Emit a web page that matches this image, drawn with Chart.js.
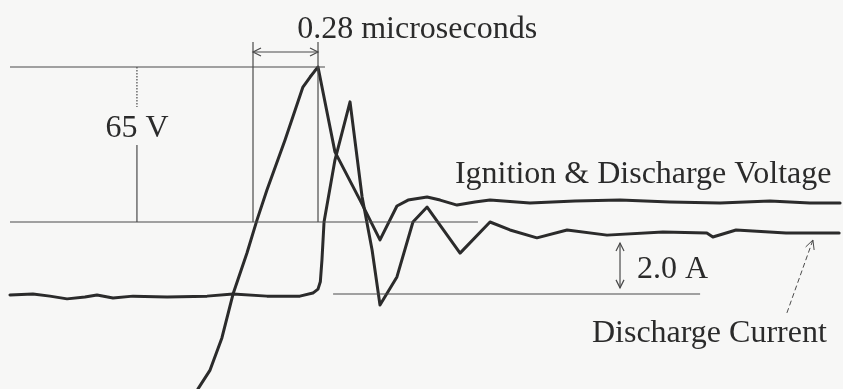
<!DOCTYPE html>
<html>
<head>
<meta charset="utf-8">
<script src="https://cdn.jsdelivr.net/npm/chart.js@4.4.1/dist/chart.umd.min.js"></script>
<style>
  html, body { margin: 0; padding: 0; background: #f7f7f6; }
  #wrap { width: 843px; height: 389px; }
</style>
</head>
<body>
<div id="wrap"><canvas id="scope" width="843" height="389"></canvas></div>
<script>
// time in microseconds (0 = start of voltage rise marker)
const voltageTime = [-0.250, -0.237, -0.185, -0.134, -0.086, -0.026, 0.017, 0.060, 0.138, 0.215, 0.246, 0.265, 0.280,
  0.353, 0.461, 0.547, 0.620, 0.668, 0.750, 0.806, 0.879, 0.956, 1.021, 1.193, 1.387, 1.581, 1.796, 2.012, 2.227, 2.399, 2.529];
// volts, 0 = discharge reference line
const voltageVolts = [-72.5, -70.0, -62.1, -48.6, -30.2, -13.0, 0.8, 13.4, 34.4, 56.6, 60.8, 63.2, 65.0,
  29.4, 9.2, -7.5, 6.7, 9.2, 10.5, 9.2, 7.1, 8.4, 9.2, 8.0, 8.8, 9.2, 8.4, 8.0, 8.8, 8.0, 8.0];

const currentTime = [-1.047, -0.948, -0.875, -0.801, -0.724, -0.672, -0.603, -0.517, -0.370, -0.198, -0.086, 0.060,
  0.202, 0.258, 0.280, 0.290, 0.297, 0.306, 0.353, 0.418, 0.470, 0.513, 0.547, 0.620, 0.689, 0.750, 0.892, 1.021,
  1.107, 1.223, 1.353, 1.525, 1.766, 1.955, 1.981, 2.081, 2.296, 2.525];
// amperes
const currentAmps = [-0.03, 0.00, -0.07, -0.16, -0.10, -0.03, -0.13, -0.07, -0.10, -0.07, 0.00, -0.07,
  -0.07, 0.03, 0.16, 0.40, 1.11, 2.36, 4.39, 6.30, 3.18, 1.44, -0.36, 0.56, 2.36, 2.85, 1.34, 2.36,
  2.10, 1.84, 2.10, 1.93, 2.03, 2.00, 1.87, 2.10, 2.00, 2.00];

// measurement guide lines
const peakVolts = 65;
const riseWidthUs = 0.28;
const currentStepAmps = 2.0;

const serif = "'Liberation Serif', 'Times New Roman', serif";
const ink = '#2b2b2b';
const guide = '#4a4a4a';

function pts(xs, ys) {
  return xs.map((x, i) => ({ x: x, y: ys[i] }));
}

function guideSet(data, axis) {
  return {
    data: data, yAxisID: axis || 'y', borderColor: guide, borderWidth: 1.2,
    pointRadius: 0, tension: 0, fill: false
  };
}

function arrowHead(ctx, x, y, dx, dy, size) {
  const len = Math.hypot(dx, dy);
  const ux = dx / len, uy = dy / len;
  ctx.beginPath();
  ctx.moveTo(x - ux * size - uy * size * 0.5, y - uy * size + ux * size * 0.5);
  ctx.lineTo(x, y);
  ctx.lineTo(x - ux * size + uy * size * 0.5, y - uy * size - ux * size * 0.5);
  ctx.stroke();
}

const annotations = {
  id: 'annotations',
  afterDatasetsDraw(chart) {
    const ctx = chart.ctx;
    const xs = chart.scales.x, ys = chart.scales.y, ya = chart.scales.y1;
    ctx.save();
    ctx.strokeStyle = guide;
    ctx.lineWidth = 1.2;

    // 0.28 us double arrow
    const ay = ys.getPixelForValue(71.3);
    const ax0 = xs.getPixelForValue(0), ax1 = xs.getPixelForValue(riseWidthUs);
    ctx.beginPath(); ctx.moveTo(ax0, ay); ctx.lineTo(ax1, ay); ctx.stroke();
    arrowHead(ctx, ax0, ay, -1, 0, 8);
    arrowHead(ctx, ax1, ay, 1, 0, 8);

    // 65 V dimension: dotted part above the label, solid below
    const vx = xs.getPixelForValue(-0.5);
    ctx.setLineDash([1.5, 1.5]);
    ctx.beginPath(); ctx.moveTo(vx, ys.getPixelForValue(peakVolts)); ctx.lineTo(vx, ys.getPixelForValue(48.2)); ctx.stroke();
    ctx.setLineDash([]);
    ctx.beginPath(); ctx.moveTo(vx, ys.getPixelForValue(32.3)); ctx.lineTo(vx, ys.getPixelForValue(0)); ctx.stroke();

    // 2.0 A double arrow
    const cx = xs.getPixelForValue(1.581);
    const cy0 = ya.getPixelForValue(0.2), cy1 = ya.getPixelForValue(1.67);
    ctx.beginPath(); ctx.moveTo(cx, cy0); ctx.lineTo(cx, cy1); ctx.stroke();
    arrowHead(ctx, cx, cy0, 0, 1, 8);
    arrowHead(ctx, cx, cy1, 0, -1, 8);

    // dashed pointer to the current trace
    const px0 = xs.getPixelForValue(2.300), py0 = ya.getPixelForValue(-0.62);
    const px1 = xs.getPixelForValue(2.412), py1 = ya.getPixelForValue(1.77);
    ctx.lineWidth = 1;
    ctx.setLineDash([5, 3]);
    ctx.beginPath(); ctx.moveTo(px0, py0); ctx.lineTo(px1, py1); ctx.stroke();
    ctx.setLineDash([]);
    arrowHead(ctx, px1, py1, px1 - px0, py1 - py0, 9);

    // labels
    ctx.fillStyle = ink;
    ctx.font = '32px ' + serif;
    ctx.textBaseline = 'alphabetic';
    ctx.textAlign = 'center';
    ctx.fillText('0.28 microseconds', xs.getPixelForValue(0.707), 38);
    ctx.fillText('65 V', vx, ys.getPixelForValue(35.6));
    ctx.textAlign = 'left';
    ctx.fillText('Ignition & Discharge Voltage', xs.getPixelForValue(0.870), ys.getPixelForValue(16.4));
    ctx.fillText('2.0 A', xs.getPixelForValue(1.654), ya.getPixelForValue(0.52));
    ctx.fillText('Discharge Current', xs.getPixelForValue(1.460), ya.getPixelForValue(-1.57));
    ctx.restore();
  }
};

new Chart(document.getElementById('scope'), {
  type: 'line',
  data: {
    datasets: [
      // reference lines
      guideSet(pts([-1.047, 0.310], [peakVolts, peakVolts])),
      guideSet(pts([-1.047, 0.969], [0, 0])),
      guideSet(pts([0, 0], [0, 75.5])),
      guideSet(pts([riseWidthUs, riseWidthUs], [0, 75.5])),
      guideSet(pts([0.345, 1.926], [0, 0]), 'y1'),
      // traces
      {
        label: 'Ignition & Discharge Voltage', data: pts(voltageTime, voltageVolts), yAxisID: 'y',
        borderColor: ink, borderWidth: 3, pointRadius: 0, tension: 0, fill: false,
        borderJoinStyle: 'round', borderCapStyle: 'round'
      },
      {
        label: 'Discharge Current', data: pts(currentTime, currentAmps), yAxisID: 'y1',
        borderColor: ink, borderWidth: 3, pointRadius: 0, tension: 0, fill: false,
        borderJoinStyle: 'round', borderCapStyle: 'round'
      }
    ]
  },
  options: {
    responsive: false,
    animation: false,
    layout: { padding: 0 },
    plugins: { legend: { display: false }, tooltip: { enabled: false } },
    scales: {
      x: { type: 'linear', min: -1.0899, max: 2.5416, display: false },
      y: { type: 'linear', min: -70.03, max: 93.1, display: false },
      y1: { type: 'linear', min: -3.115, max: 9.639, display: false }
    }
  },
  plugins: [annotations]
});
</script>
</body>
</html>
